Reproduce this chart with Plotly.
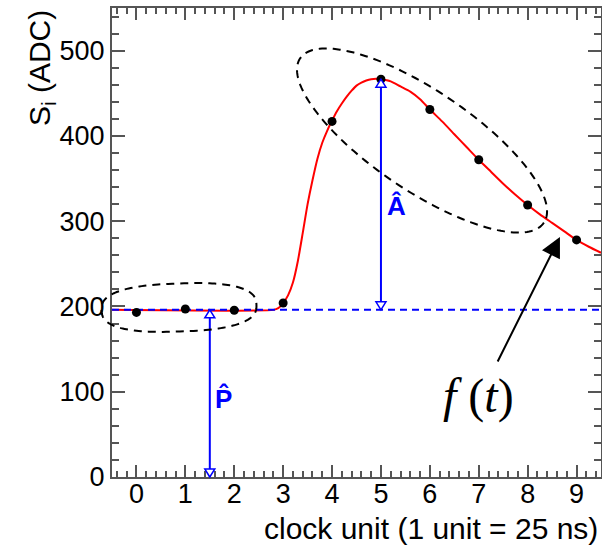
import numpy as np
import plotly.graph_objects as go

# ---------------- data ----------------
sample_t = [0, 1, 2, 3, 4, 5, 6, 7, 8, 9]
sample_adc = [193, 197, 195.5, 204, 417, 466.5, 431, 372, 319, 278]

curve_t = [-0.5, 2.8, 2.9, 3.0, 3.1, 3.2, 3.3, 3.4, 3.5, 3.6, 3.7, 3.8, 3.9,
           4.0, 4.1, 4.2, 4.3, 4.4, 4.5, 4.6, 4.7, 4.8, 4.9, 5.0, 5.2, 5.4,
           5.6, 5.8, 6.0, 6.25, 6.5, 6.75, 7.0, 7.25, 7.5, 7.75, 8.0, 8.25,
           8.5, 8.75, 9.0, 9.25, 9.5]
curve_adc = [196, 196, 198, 204, 213, 228, 253, 286, 320, 348, 373, 392, 406,
             418, 429, 438, 446, 453, 459, 462.5, 465, 466.5, 467, 466.5, 464, 458,
             452, 443, 431, 417, 402, 387, 372, 358, 344, 331, 319, 308,
             298, 288, 278, 270, 263]

pedestal = 196
amplitude_peak = 466.5
pedestal_arrow_t = 1.5
amplitude_arrow_t = 5.0

x_tick_vals = [0, 1, 2, 3, 4, 5, 6, 7, 8, 9]
x_tick_text = ["0", "1", "2", "3", "4", "5", "6", "7", "8", "9"]
y_tick_vals = [0, 100, 200, 300, 400, 500]
y_tick_text = ["0", "100", "200", "300", "400", "500"]

X_RANGE = [-0.5, 9.5]
Y_RANGE = [0, 550]

# ---------------- geometry helpers ----------------
W, H = 602, 547
ML, MR, MT, MB = 112, 1, 8, 70
PW = W - ML - MR
PH = H - MT - MB
BOT = H - MB


def d2px(x, y):
    px = ML + (x - X_RANGE[0]) / (X_RANGE[1] - X_RANGE[0]) * PW
    py = BOT - (y - Y_RANGE[0]) / (Y_RANGE[1] - Y_RANGE[0]) * PH
    return px, py


def px2paper(px, py):
    return (px - ML) / PW, (BOT - py) / PH


def path_from_px(points, close=True):
    parts = []
    for i, (px, py) in enumerate(points):
        u, v = px2paper(px, py)
        parts.append(("M" if i == 0 else "L") + f"{u:.5f},{v:.5f}")
    return " ".join(parts) + (" Z" if close else "")


def ellipse_path(cx, cy, a_px, b_px, theta_deg, n=2.0):
    cpx, cpy = d2px(cx, cy)
    th = np.radians(theta_deg)
    pts = []
    for t in np.linspace(0, 2 * np.pi, 181):
        c, s = np.cos(t), np.sin(t)
        u = a_px * np.sign(c) * abs(c) ** (2 / n)
        v = b_px * np.sign(s) * abs(s) ** (2 / n)
        pts.append((cpx + u * np.cos(th) - v * np.sin(th),
                    cpy + u * np.sin(th) + v * np.cos(th)))
    return path_from_px(pts)


def open_head(x, y, up=True, half_w=5, length=8):
    px, py = d2px(x, y)
    base = py + length if up else py - length
    return path_from_px([(px, py), (px - half_w, base), (px + half_w, base)])


BLUE = "#0000ff"
RED = "#ff0000"
AXC = "#555555"
FONT = "Liberation Sans, Arial, sans-serif"

fig = go.Figure()

# fitted function
fig.add_trace(go.Scatter(x=curve_t, y=curve_adc, mode="lines",
                         line=dict(color=RED, width=2, shape="spline", smoothing=0.6),
                         hoverinfo="skip", showlegend=False))
# pedestal level
fig.add_trace(go.Scatter(x=X_RANGE, y=[pedestal, pedestal], mode="lines",
                         line=dict(color=BLUE, width=2, dash="7px,5px"),
                         hoverinfo="skip", showlegend=False))
# pedestal arrow
fig.add_trace(go.Scatter(x=[pedestal_arrow_t, pedestal_arrow_t], y=[0, pedestal],
                         mode="lines", line=dict(color=BLUE, width=2),
                         hoverinfo="skip", showlegend=False))
# amplitude arrow
fig.add_trace(go.Scatter(x=[amplitude_arrow_t, amplitude_arrow_t],
                         y=[pedestal, amplitude_peak],
                         mode="lines", line=dict(color=BLUE, width=2),
                         hoverinfo="skip", showlegend=False))
# samples
fig.add_trace(go.Scatter(x=sample_t, y=sample_adc, mode="markers",
                         marker=dict(color="black", size=9),
                         hoverinfo="skip", showlegend=False))

shapes = []
for path in [open_head(pedestal_arrow_t, pedestal, up=True),
             open_head(pedestal_arrow_t, 0, up=False),
             open_head(amplitude_arrow_t, amplitude_peak, up=True),
             open_head(amplitude_arrow_t, pedestal, up=False)]:
    shapes.append(dict(type="path", path=path, xref="paper", yref="paper",
                       line=dict(color=BLUE, width=1.5), fillcolor="white"))

shapes.append(dict(type="path", xref="paper", yref="paper",
                   path=ellipse_path(0.87, 198.8, 77.5, 24, -2, n=2.6),
                   line=dict(color="black", width=2, dash="8px,6px")))
shapes.append(dict(type="path", xref="paper", yref="paper",
                   path=ellipse_path(5.84, 394.6, 147, 50, 34),
                   line=dict(color="black", width=2, dash="8px,6px")))

annotations = [
    dict(x=1.77, y=91.5, xref="x", yref="y", text="<b>P̂</b>", showarrow=False,
         font=dict(family=FONT, size=26, color=BLUE)),
    dict(x=5.31, y=317.8, xref="x", yref="y", text="<b>Â</b>", showarrow=False,
         font=dict(family=FONT, size=26, color=BLUE)),
    dict(x=7.0, y=95, xref="x", yref="y", text="<i>f</i> (<i>t</i>)", showarrow=False,
         font=dict(family="Liberation Serif, Times New Roman, serif", size=48, color="black")),
    dict(x=8.66, y=281.5, xref="x", yref="y", text="", showarrow=True,
         ax=-63, ay=126, arrowhead=2, arrowsize=2, arrowwidth=2, arrowcolor="black",
         standoff=0),
    dict(x=-0.145, y=1.0, xref="paper", yref="paper", text="S<sub>i</sub> (ADC)",
         textangle=-90, showarrow=False, xanchor="center", yanchor="top",
         font=dict(family=FONT, size=30, color="black")),
    dict(x=0.998, y=-0.1095, xref="paper", yref="paper",
         text="clock unit (1 unit = 25 ns)", showarrow=False,
         xanchor="right", yanchor="middle",
         font=dict(family=FONT, size=30, color="black")),
]

axis_common = dict(showline=True, linecolor=AXC, linewidth=2, mirror="ticks",
                   ticks="inside", tickcolor=AXC, tickwidth=1.5,
                   showgrid=False, zeroline=False,
                   tickfont=dict(family=FONT, size=27, color="black"))

fig.update_layout(
    width=W, height=H,
    margin=dict(l=ML, r=MR, t=MT, b=MB, pad=0, autoexpand=False),
    paper_bgcolor="white", plot_bgcolor="white",
    xaxis=dict(range=X_RANGE, tickvals=x_tick_vals, ticktext=x_tick_text,
               ticklen=12, automargin=False, ticklabelstandoff=-8,
               minor=dict(dtick=0.2, tick0=0, ticks="inside", ticklen=6,
                          tickcolor=AXC, tickwidth=1.5, showgrid=False),
               **axis_common),
    yaxis=dict(range=Y_RANGE, tickvals=y_tick_vals, ticktext=y_tick_text,
               ticklen=13, automargin=False,
               minor=dict(dtick=20, tick0=0, ticks="inside", ticklen=7,
                          tickcolor=AXC, tickwidth=1.5, showgrid=False),
               **axis_common),
    shapes=shapes,
    annotations=annotations,
    showlegend=False,
)

fig.write_html("out.html", config={"displayModeBar": False},
               post_script="document.body.style.margin='0';document.body.style.overflow='hidden';")
